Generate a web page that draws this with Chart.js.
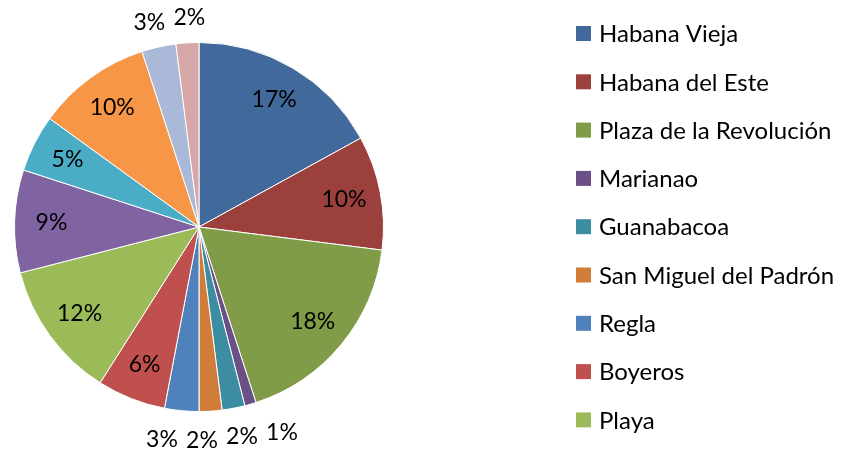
<!DOCTYPE html>
<html lang="es">
<head>
    <meta charset="UTF-8">
    <title>Municipios</title>
    <style>
        body { margin: 0; background: #fff; }
    </style>
</head>
<body>
<canvas id="pieChart" width="845" height="457"></canvas>

<script src="https://cdn.jsdelivr.net/npm/chart.js"></script>
<script>
    // municipalities (only the first nine are named in the legend)
    const categories = [
        'Habana Vieja', 'Habana del Este', 'Plaza de la Revolución', 'Marianao',
        'Guanabacoa', 'San Miguel del Padrón', 'Regla', 'Boyeros', 'Playa',
        '', '', '', '', ''
    ];
    const percents = [17, 10, 18, 1, 2, 2, 3, 6, 12, 9, 5, 10, 3, 2];
    const colors = [
        '#41699B', '#9C403E', '#809C48', '#6B5088', '#3D8DA2', '#CF7D39', '#4F81BD',
        '#C0504D', '#9BBB59', '#8064A2', '#4BACC6', '#F79646', '#AAB9D7', '#D7A7A7'
    ];

    const LABEL_FONT = '23px Lato, "Open Sans", sans-serif';
    const LEGEND_FONT = '24px Lato, "Open Sans", sans-serif';

    // percentage labels: inside big slices, outside (and spread apart) for small ones
    const sliceLabels = {
        id: 'sliceLabels',
        afterDatasetsDraw(chart) {
            const c = chart.ctx;
            const arcs = chart.getDatasetMeta(0).data;
            const pts = [];
            arcs.forEach((arc, i) => {
                const p = arc.getProps(['x', 'y', 'startAngle', 'endAngle', 'outerRadius'], true);
                const mid = (p.startAngle + p.endAngle) / 2;
                const outside = percents[i] <= 3;
                const r = outside ? p.outerRadius + 27 : p.outerRadius * 0.8;
                pts.push({x: p.x + Math.cos(mid) * r, y: p.y + Math.sin(mid) * r + (outside ? 2 : 0), outside, text: percents[i] + '%'});
            });
            const out = pts.filter(p => p.outside);
            for (let k = 0; k < 40; k++) {
                for (let a = 0; a < out.length; a++) {
                    for (let b = a + 1; b < out.length; b++) {
                        const A = out[a], B = out[b];
                        const dx = B.x - A.x;
                        if (Math.abs(B.y - A.y) < 20 && Math.abs(dx) < 40) {
                            const push = (40 - Math.abs(dx)) / 2 * (dx >= 0 ? 1 : -1);
                            A.x -= push; B.x += push;
                        }
                    }
                }
            }
            c.save();
            c.font = LABEL_FONT;
            c.fillStyle = '#000';
            c.textAlign = 'center';
            c.textBaseline = 'middle';
            pts.forEach(p => c.fillText(p.text, p.x, p.y));
            c.restore();
        }
    };

    // legend on the right, named items only
    const sideLegend = {
        id: 'sideLegend',
        afterDraw(chart, args, opts) {
            const c = chart.ctx;
            c.save();
            c.font = LEGEND_FONT;
            c.textBaseline = 'middle';
            let row = 0;
            chart.data.labels.forEach((lab, i) => {
                if (!lab) return;
                const y = opts.top + row * opts.step;
                c.fillStyle = colors[i];
                c.fillRect(opts.left, y - 7.5, 15, 15);
                c.fillStyle = '#000';
                c.fillText(lab, opts.left + 23, y + 1);
                row++;
            });
            c.restore();
        }
    };

    const chart = new Chart(document.getElementById('pieChart'), {
        type: 'pie',
        data: {
            labels: categories,
            datasets: [{
                data: percents,
                backgroundColor: colors,
                borderColor: '#ffffff',
                borderWidth: 1
            }]
        },
        options: {
            responsive: false,
            animation: false,
            layout: {padding: {left: 14, right: 461, top: 42, bottom: 45}},
            plugins: {
                legend: {display: false},
                tooltip: {enabled: false},
                sideLegend: {left: 576, top: 33.5, step: 48.3}
            }
        },
        plugins: [sliceLabels, sideLegend]
    });
</script>
</body>
</html>
